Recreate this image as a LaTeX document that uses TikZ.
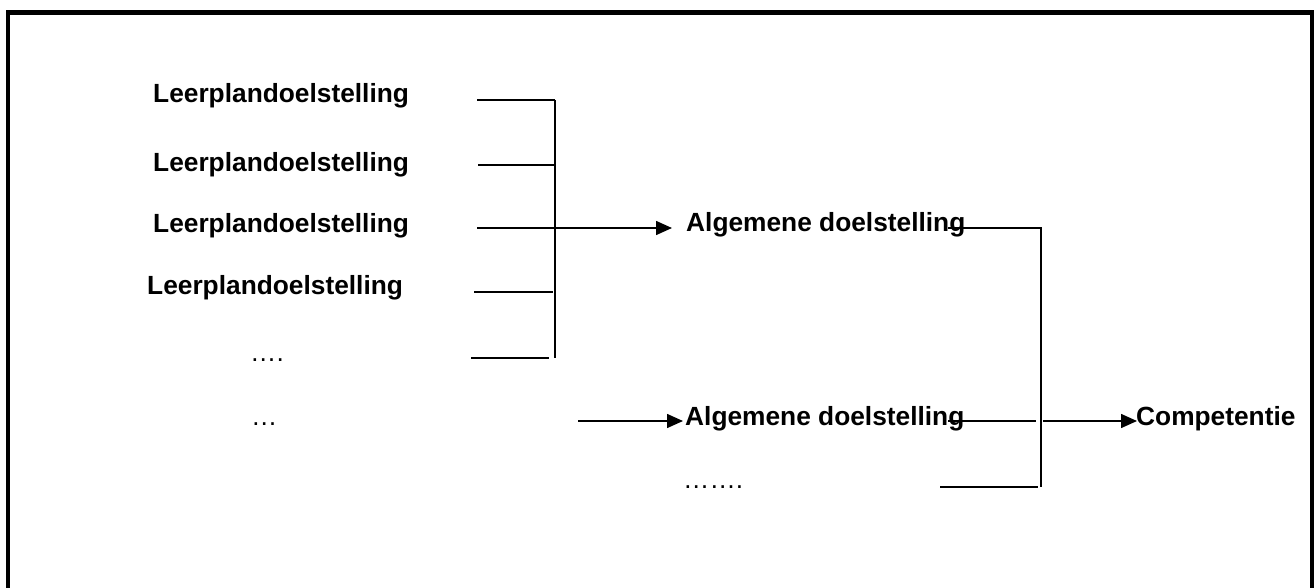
\documentclass[tikz,border=0pt]{standalone}
\usepackage{fontspec}
\setmainfont{Liberation Sans}
\usetikzlibrary{arrows.meta}
\begin{document}
\begin{tikzpicture}[x=1pt,y=-1pt,
  lbl/.style={anchor=base west,inner sep=0pt,font=\fontsize{26.3}{30}\selectfont\bfseries},
  dots/.style={anchor=base west,inner sep=0pt,font=\fontsize{26.3}{30}\selectfont},
  conn/.style={line width=1.5pt},
  arr/.style={line width=1.5pt,-{Triangle[length=16pt,width=14pt]}},
  frame/.style={line width=4.5pt}]
\useasboundingbox (0,0) rectangle (1314,588);
\draw[frame] (8,600) -- (8,12.5) -- (1312,12.5) -- (1312,600);
% texts
\node[lbl] (L1) at (153,103) {Leerplandoelstelling};
\node[lbl] (L2) at (153,172) {Leerplandoelstelling};
\node[lbl] (L3) at (153,233) {Leerplandoelstelling};
\node[lbl] (L4) at (147,294) {Leerplandoelstelling};
\node[dots] (D1) at (250,361) {….};
\node[dots] (D2) at (251,425) {…};
\node[lbl] (A1) at (686,231) {Algemene doelstelling};
\node[lbl] (A2) at (685,425) {Algemene doelstelling};
\node[dots] (D3) at (683,488) {…….};
\node[lbl] (C) at (1136,425) {Competentie};
% coordinates
\coordinate (r1) at (477,100); \coordinate (r2) at (478,165);
\coordinate (r3) at (477,228); \coordinate (r4) at (474,292);
\coordinate (r5) at (471,358);
\coordinate (j1) at (555,100); \coordinate (j2) at (556,165);
\coordinate (j3) at (555,228); \coordinate (j4) at (553,292);
\coordinate (j5) at (549,358);
\coordinate (t1) at (672,228);
\coordinate (s2) at (578,421); \coordinate (t2) at (683,421);
\coordinate (a1o) at (948,228); \coordinate (k1) at (1041,228);
\coordinate (a2o) at (948,421); \coordinate (k2) at (1036,421);
\coordinate (k2b) at (1043,421); \coordinate (tc) at (1137,421);
\coordinate (r6) at (940,487); \coordinate (k3) at (1038,487);
\coordinate (kb) at (1041,487);
% connectors
\draw[conn] (r1) -- (j1);
\draw[conn] (r2) -- (j2);
\draw[conn] (r3) -- (j3);
\draw[conn] (r4) -- (j4);
\draw[conn] (r5) -- (j5);
\draw[conn] (555,100) -- (555,358);
\draw[arr] (j3) -- (t1);
\draw[arr] (s2) -- (t2);
\draw[conn] (a1o) -- (k1) -- (kb);
\draw[conn] (a2o) -- (k2);
\draw[arr] (k2b) -- (tc);
\draw[conn] (r6) -- (k3);
\end{tikzpicture}
\end{document}
